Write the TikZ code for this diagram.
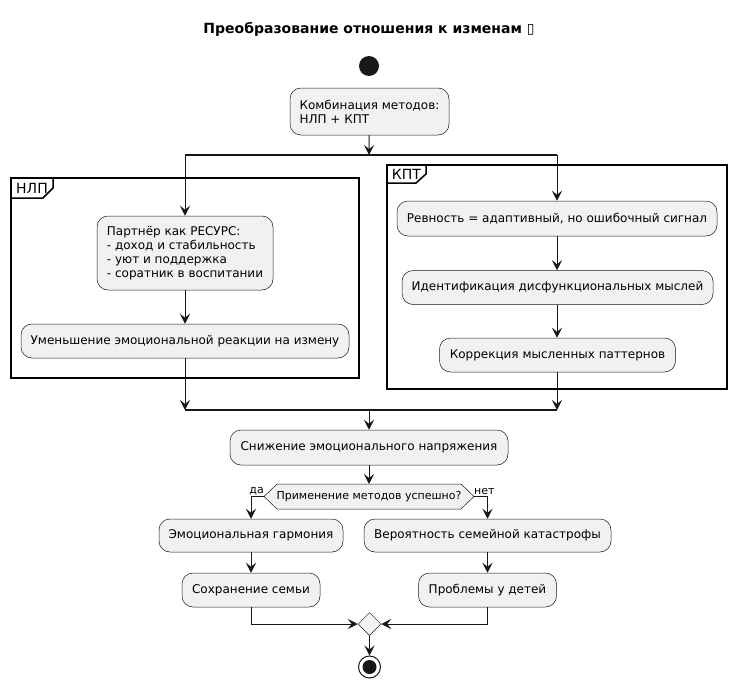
\documentclass[tikz,border=0pt]{standalone}
\usepackage{fontspec}
\setmainfont{DejaVu Sans}
\usetikzlibrary{arrows.meta,shapes.geometric,calc}
\definecolor{ln}{HTML}{181818}
\definecolor{boxfill}{HTML}{F1F1F1}
\begin{document}
\begin{tikzpicture}[x=1pt,y=-1pt,
  act/.style={draw=ln, fill=boxfill, rounded corners=11pt, line width=0.5pt,
    font=\fontsize{12}{14}\selectfont, inner sep=0pt, align=center},
  actl/.style={act, align=left},
  flow/.style={draw=ln, line width=1pt, -{Stealth[length=10pt,width=10pt,inset=4pt]}},
  bar/.style={draw=ln, line width=1.5pt},
  frame/.style={draw=black, line width=1.5pt},
  framelbl/.style={font=\fontsize{14}{16}\selectfont, inner sep=0pt},
  small/.style={font=\fontsize{11}{13}\selectfont, inner sep=0pt}]
\useasboundingbox (0,0) rectangle (737,688);

% title
\node[inner sep=0pt, font=\bfseries\fontsize{14}{16}\selectfont] (title) at (369,29) {Преобразование отношения к изменам ▯};

% start
\node[circle, fill=ln, minimum size=20pt, inner sep=0pt] (start) at (369,66) {};

\node[actl, minimum width=159pt, minimum height=47pt] (combo) at (369.5,111.5) {Комбинация методов:\\НЛП + КПТ};

% frames
\draw[frame] (11,178) rectangle (359,378);
\draw[frame] (11,198) -- (43,198) -- (53,188) -- (53,178);
\node[framelbl] (nlpl) at (32,188) {НЛП};
\draw[frame] (387,165) rectangle (727,389);
\draw[frame] (387,183) -- (416,183) -- (426,174) -- (426,165);
\node[framelbl] (kptl) at (406.5,174) {КПТ};

% fork
\coordinate (f) at (369,155);
\coordinate (fl) at (185,155);
\coordinate (fr) at (557,155);
\draw[flow] (combo) -- (f);
\draw[bar] (fl) -- (fr);

% NLP branch
\node[actl, minimum width=176pt, minimum height=74pt] (partner) at (185,253)
  {Партнёр как РЕСУРС:\\- доход и стабильность\\- уют и поддержка\\- соратник в воспитании};
\node[act, minimum width=328pt, minimum height=34pt] (umen) at (185,341) {Уменьшение эмоциональной реакции на измену};

% KPT branch
\node[act, minimum width=320pt, minimum height=35pt] (revn) at (557,218.5) {Ревность = адаптивный, но ошибочный сигнал};
\node[act, minimum width=311pt, minimum height=34pt] (ident) at (557.5,287.5) {Идентификация дисфункциональных мыслей};
\node[act, minimum width=236pt, minimum height=34pt] (korr) at (557.5,355) {Коррекция мысленных паттернов};

\draw[flow] (fl) -- (partner.north);
\draw[flow] (fr) -- (revn.north -| fr);
\draw[flow] (partner.south) -- (umen.north);
\draw[flow] (revn.south -| fr) -- (ident.north -| fr);
\draw[flow] (ident.south -| fr) -- (korr.north -| fr);

% join
\coordinate (j) at (369,410);
\coordinate (jl) at (185,410);
\coordinate (jr) at (557,410);
\draw[flow] (umen.south) -- (jl);
\draw[flow] (korr.south -| jr) -- (jr);
\draw[bar] (jl) -- (jr);

\node[act, minimum width=278pt, minimum height=35pt] (snizh) at (369,447.5) {Снижение эмоционального напряжения};
\draw[flow] (j) -- (snizh.north);

% decision
\draw[draw=ln, fill=boxfill, line width=0.5pt] (264,496.5) -- (277,484) -- (461,484) -- (474,496.5) -- (461,509) -- (277,509) -- cycle;
\node[small] (dec) at (369,496.5) {Применение методов успешно?};
\coordinate (dtop) at (369,484);
\coordinate (dleft) at (264,496.5);
\coordinate (dright) at (474,496.5);
\draw[flow] (snizh.south) -- (dtop);

\node[small, anchor=south east] (da) at (264,495) {да};
\node[small, anchor=south west] (net) at (474,495) {нет};

\node[act, minimum width=184pt, minimum height=33pt] (garm) at (251,535.5) {Эмоциональная гармония};
\node[act, minimum width=247pt, minimum height=33pt] (ver) at (487.5,535.5) {Вероятность семейной катастрофы};
\draw[flow] (dleft) -| (garm.north);
\draw[flow] (dright) -| (ver.north);

\node[act, minimum width=138pt, minimum height=34pt] (sohr) at (251,590) {Сохранение семьи};
\node[act, minimum width=138pt, minimum height=34pt] (probl) at (487.5,590) {Проблемы у детей};
\draw[flow] (garm.south) -- (sohr.north);
\draw[flow] (ver.south) -- (probl.north);

% merge
\node[diamond, draw=ln, fill=boxfill, line width=0.5pt, minimum size=23pt, inner sep=0pt, aspect=1] (merge) at (369.5,624) {};
\draw[flow] (sohr.south) |- (merge.west);
\draw[flow] (probl.south) |- (merge.east);

% end
\node[circle, draw=ln, line width=1pt, minimum size=22pt, inner sep=0pt] (endc) at (369.5,667) {};
\node[circle, fill=ln, minimum size=14pt, inner sep=0pt] (endin) at (369.5,667) {};
\draw[flow] (merge.south) -- (endc.north);
\end{tikzpicture}
\end{document}
